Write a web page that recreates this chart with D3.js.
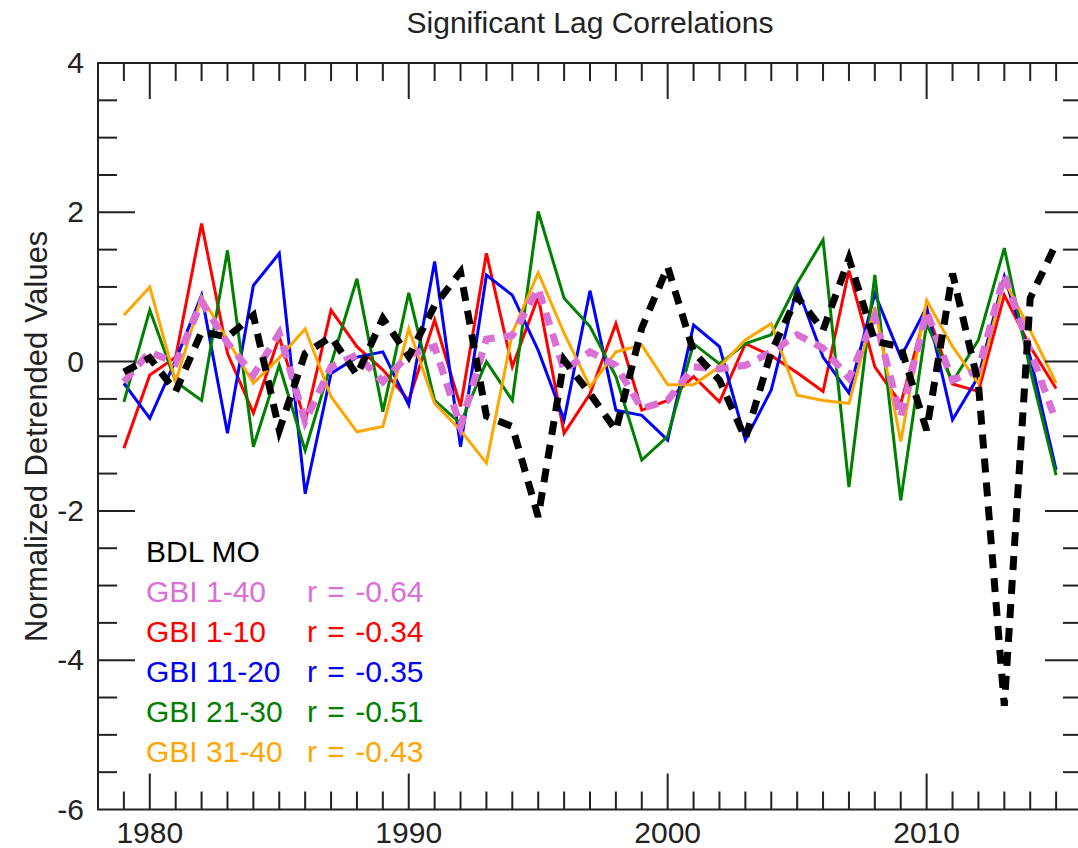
<!DOCTYPE html>
<html>
<head>
<meta charset="utf-8">
<script src="https://cdn.jsdelivr.net/npm/d3@7"></script>
<style>
  body { margin: 0; background: #fff; }
  text { font-family: "Liberation Sans", Arial, Helvetica, sans-serif; }
</style>
</head>
<body>
<svg id="chart"></svg>
<script>
// Data
const years = d3.range(1979, 2016);

const bdlMO = [-0.14, 0.05, -0.40, 0.40, 0.33, 0.62, -0.92, 0.11, 0.33, -0.18,
  0.58, 0.07, 0.75, 1.20, -0.73, -0.87, -2.08, 0.02, -0.43, -0.92,
  0.45, 1.27, 0.13, -0.25, -1.03, 0.13, 0.87, 0.42, 1.38, 0.27,
  0.20, -0.92, 1.18, -0.30, -4.61, 0.85, 1.58];

const gbi1_40 = [-0.27, 0.13, -0.02, 0.80, 0.25, -0.18, 0.38, -0.80, -0.07, 0.09,
  -0.27, 0.09, 0.20, -0.87, 0.30, 0.35, 0.98, -0.12, 0.13, -0.05,
  -0.63, -0.52, -0.07, -0.10, -0.05, 0.13, 0.36, 0.18, -0.22, 0.60,
  -0.74, 0.67, -0.25, -0.11, 1.16, 0.15, -0.80];

const gbi1_10 = [-1.16, -0.18, 0.06, 1.85, 0.11, -0.69, 0.33, -0.80, 0.69, 0.20,
  -0.11, -0.52, 0.56, -0.60, 1.45, -0.07, 0.87, -0.96, -0.43, 0.51,
  -0.65, -0.52, -0.20, -0.54, 0.24, 0.08, -0.15, -0.40, 1.22, -0.07,
  -0.56, 0.69, -0.30, -0.40, 0.89, 0.20, -0.36];

const gbi11_20 = [-0.29, -0.76, 0.02, 0.89, -0.96, 1.02, 1.45, -1.77, -0.16, 0.06,
  0.13, -0.58, 1.34, -1.14, 1.16, 0.89, 0.15, -0.78, 0.95, -0.65,
  -0.72, -1.05, 0.49, 0.20, -1.05, -0.38, 1.00, 0.06, -0.42, 0.91,
  0.06, 0.73, -0.78, -0.20, 1.14, 0.06, -1.45];

const gbi21_30 = [-0.54, 0.69, -0.27, -0.52, 1.49, -1.14, -0.05, -1.19, -0.03, 1.11,
  -0.67, 0.92, -0.52, -0.83, 0.00, -0.52, 2.01, 0.85, 0.47, -0.20,
  -1.32, -1.00, 0.24, -0.03, 0.24, 0.36, 1.05, 1.63, -1.68, 1.16,
  -1.86, 0.51, -0.27, 0.29, 1.52, -0.11, -1.52];

const gbi31_40 = [0.62, 1.00, -0.27, 0.87, 0.29, -0.29, 0.05, 0.44, -0.47, -0.94,
  -0.87, 0.44, -0.56, -0.92, -1.36, 0.38, 1.19, 0.38, -0.34, 0.13,
  0.22, -0.31, -0.31, -0.07, 0.29, 0.51, -0.45, -0.52, -0.56, 0.73,
  -1.07, 0.82, 0.20, -0.29, 1.09, 0.42, -0.29];

const legendNames = ["BDL MO", "GBI 1-40", "GBI 1-10", "GBI 11-20", "GBI 21-30", "GBI 31-40"];
const rValues = [null, "-0.64", "-0.34", "-0.35", "-0.51", "-0.43"];
const legendColors = ["#000000", "#da70d6", "#ff0000", "#0000ff", "#008000", "#ffa500"];

const xMajorTicks = [1980, 1990, 2000, 2010];
const yMajorTicks = [-6, -4, -2, 0, 2, 4];

// Dimensions
const w = 1078;
const h = 848;
const m = { left: 98, right: 1082, top: 63, bottom: 809.5 };

const svg = d3.select("#chart")
  .attr("width", w)
  .attr("height", h);

const x = d3.scaleLinear().domain([1978, 2016]).range([m.left, m.right]);
const y = d3.scaleLinear().domain([-6, 4]).range([m.bottom, m.top]);

// Lines (solid ones first, dashed on top)
const line = d3.line()
  .x((d, i) => x(years[i]))
  .y(d => y(d));

const solid = [
  { v: gbi1_10, c: "#ff0000" },
  { v: gbi11_20, c: "#0000ff" },
  { v: gbi21_30, c: "#008000" },
  { v: gbi31_40, c: "#ffa500" }
];

svg.selectAll("path.solid")
  .data(solid)
  .enter()
  .append("path")
  .attr("class", "solid")
  .attr("d", d => line(d.v))
  .attr("fill", "none")
  .attr("stroke", d => d.c)
  .attr("stroke-width", 3)
  .attr("stroke-linejoin", "miter");

svg.append("path")
  .attr("d", line(gbi1_40))
  .attr("fill", "none")
  .attr("stroke", "#da70d6")
  .attr("stroke-width", 7)
  .attr("stroke-dasharray", "13,9");

svg.append("path")
  .attr("d", line(bdlMO))
  .attr("fill", "none")
  .attr("stroke", "#000")
  .attr("stroke-width", 7)
  .attr("stroke-dasharray", "14,10");

// Frame and ticks
const axisColor = "#222";
const frame = svg.append("g")
  .attr("stroke", axisColor)
  .attr("stroke-width", 2);

frame.append("rect")
  .attr("x", m.left)
  .attr("y", m.top)
  .attr("width", m.right - m.left)
  .attr("height", m.bottom - m.top)
  .attr("fill", "none");

const xMinor = d3.range(1979, 2016);
frame.selectAll("g.xt")
  .data(xMinor)
  .enter()
  .append("g")
  .attr("class", "xt")
  .each(function(d) {
    const len = xMajorTicks.includes(d) ? 36 : 18;
    const g = d3.select(this);
    g.append("line").attr("x1", x(d)).attr("x2", x(d)).attr("y1", m.bottom).attr("y2", m.bottom - len);
    g.append("line").attr("x1", x(d)).attr("x2", x(d)).attr("y1", m.top).attr("y2", m.top + len);
  });

const yMinor = d3.range(-5.5, 4, 0.5);
frame.selectAll("g.yt")
  .data(yMinor)
  .enter()
  .append("g")
  .attr("class", "yt")
  .each(function(d) {
    const len = yMajorTicks.includes(d) ? 37 : 19;
    const g = d3.select(this);
    g.append("line").attr("x1", m.left).attr("x2", m.left + len).attr("y1", y(d)).attr("y2", y(d));
    g.append("line").attr("x1", m.right).attr("x2", m.right - len).attr("y1", y(d)).attr("y2", y(d));
  });

// Tick labels
svg.selectAll("text.xl")
  .data(xMajorTicks)
  .enter()
  .append("text")
  .attr("class", "xl")
  .attr("x", d => x(d))
  .attr("y", 843)
  .attr("text-anchor", "middle")
  .style("font-size", "30px")
  .attr("fill", "#222")
  .text(d => d);

svg.selectAll("text.yl")
  .data(yMajorTicks)
  .enter()
  .append("text")
  .attr("class", "yl")
  .attr("x", 84)
  .attr("y", d => y(d) + 10)
  .attr("text-anchor", "end")
  .style("font-size", "30px")
  .attr("fill", "#222")
  .text(d => d);

// Title and axis title
svg.append("text")
  .attr("x", (m.left + m.right) / 2)
  .attr("y", 33)
  .attr("text-anchor", "middle")
  .style("font-size", "30px")
  .attr("fill", "#222")
  .text("Significant Lag Correlations");

svg.append("text")
  .attr("transform", `translate(47,${(m.top + m.bottom) / 2}) rotate(-90)`)
  .attr("text-anchor", "middle")
  .style("font-size", "31px")
  .attr("fill", "#222")
  .text("Normalized Detrended Values");

// Legend
const legend = svg.append("g");
legendNames.forEach((name, i) => {
  const yy = 562 + i * 40;
  legend.append("text")
    .attr("x", 146)
    .attr("y", yy)
    .style("font-size", "30px")
    .attr("fill", legendColors[i])
    .text(name);
  if (rValues[i]) {
    legend.append("text")
      .attr("x", 307)
      .attr("y", yy)
      .style("font-size", "30px")
      .style("word-spacing", "2px")
      .attr("fill", legendColors[i])
      .text(`r = ${rValues[i]}`);
  }
});
</script>
</body>
</html>
